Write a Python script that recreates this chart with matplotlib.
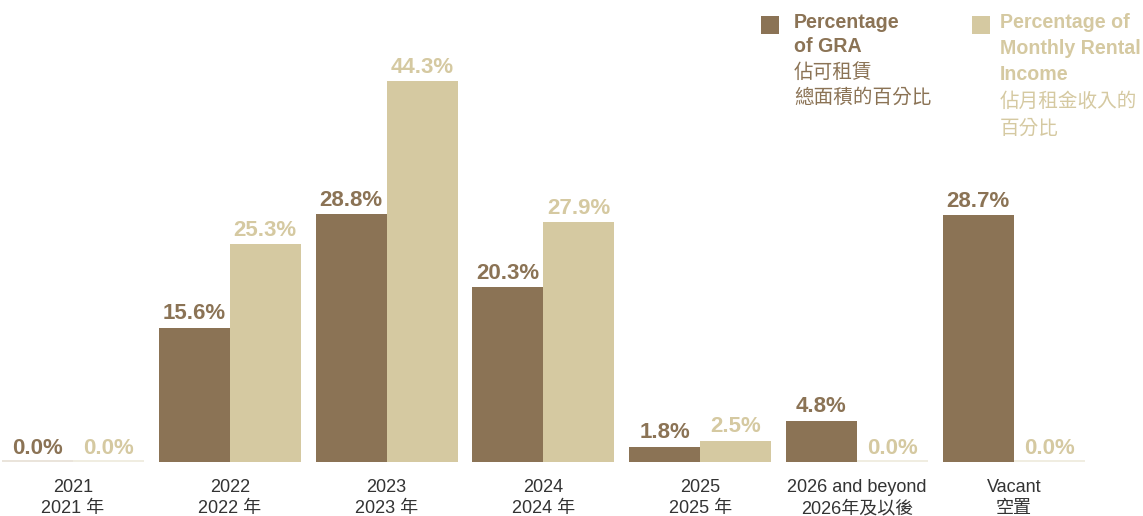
import matplotlib
matplotlib.use("Agg")
import matplotlib.pyplot as plt
import numpy as np

plt.rcParams['font.family'] = ['Liberation Sans', 'Noto Sans CJK TC', 'DejaVu Sans']

categories_en = ["2021", "2022", "2023", "2024", "2025", "2026 and beyond", "Vacant"]
categories_zh = ["2021 年", "2022 年", "2023 年", "2024 年", "2025 年", "2026年及以後", "空置"]
gra_pct = [0.0, 15.6, 28.8, 20.3, 1.8, 4.8, 28.7]
rental_pct = [0.0, 25.3, 44.3, 27.9, 2.5, 0.0, 0.0]

legend_gra = ["Percentage", "of GRA", "佔可租賃", "總面積的百分比"]
legend_rent = ["Percentage of", "Monthly Rental", "Income", "佔月租金收入的", "百分比"]

DARK = "#8b7355"
LIGHT = "#d5c9a1"
TEXT = "#333333"

W, H = 1143, 516
fig = plt.figure(figsize=(W / 100, H / 100), dpi=100)
base_px = 462
ax = fig.add_axes([0, (H - base_px) / H, 1, base_px / H])

spacing = 156.8
center0 = 73
bw = 71 / spacing
x = np.arange(len(categories_en))
ax.set_xlim(-center0 / spacing, (W - center0) / spacing)
ax.set_ylim(0, base_px / 8.6)
ax.axis("off")

ax.bar(x - bw / 2, gra_pct, width=bw, color=DARK, linewidth=0)
ax.bar(x + bw / 2, rental_pct, width=bw, color=LIGHT, linewidth=0)

# faint baseline under empty bars
for xi, v in zip(x, gra_pct):
    if v == 0:
        ax.hlines(0.06, xi - bw, xi, color="#e6dfd4", linewidth=1.2)
for xi, v in zip(x, rental_pct):
    if v == 0:
        ax.hlines(0.06, xi, xi + bw, color="#eeeadc", linewidth=1.2)

lab_kw = dict(ha="center", va="bottom", fontsize=16, fontweight="bold")
for xi, v in zip(x, gra_pct):
    ax.annotate(f"{v:.1f}%", (xi - bw / 2, v), xytext=(0, 2.5), textcoords="offset points",
                color=DARK, **lab_kw)
for xi, v in zip(x, rental_pct):
    ax.annotate(f"{v:.1f}%", (xi + bw / 2, v), xytext=(0, 2.5), textcoords="offset points",
                color=LIGHT, **lab_kw)

for xi, en, zh in zip(x, categories_en, categories_zh):
    ax.annotate(en, (xi, 0), xytext=(0, -18), textcoords="offset points",
                ha="center", va="center", fontsize=13, color=TEXT)
    ax.annotate(zh, (xi, 0), xytext=(0, -33.5), textcoords="offset points",
                ha="center", va="center", fontsize=13, color=TEXT)


def fx(px):
    return px / W


def fy(py):
    return 1 - py / H


def legend_block(sq_x, txt_x, lines, n_en, color, step):
    fig.patches.append(plt.Rectangle((fx(sq_x), fy(34)), 18 / W, 18 / H,
                                     transform=fig.transFigure, color=color, linewidth=0))
    for i, line in enumerate(lines):
        fig.text(fx(txt_x), fy(22 + step * i), line, ha="left", va="center",
                 fontsize=14.1,
                 fontweight="bold" if i < n_en else "normal", color=color)


legend_block(761, 794, legend_gra, 2, DARK, 25)
legend_block(972, 1000, legend_rent, 3, LIGHT, 26.5)

fig.savefig("out.png", dpi=100)
